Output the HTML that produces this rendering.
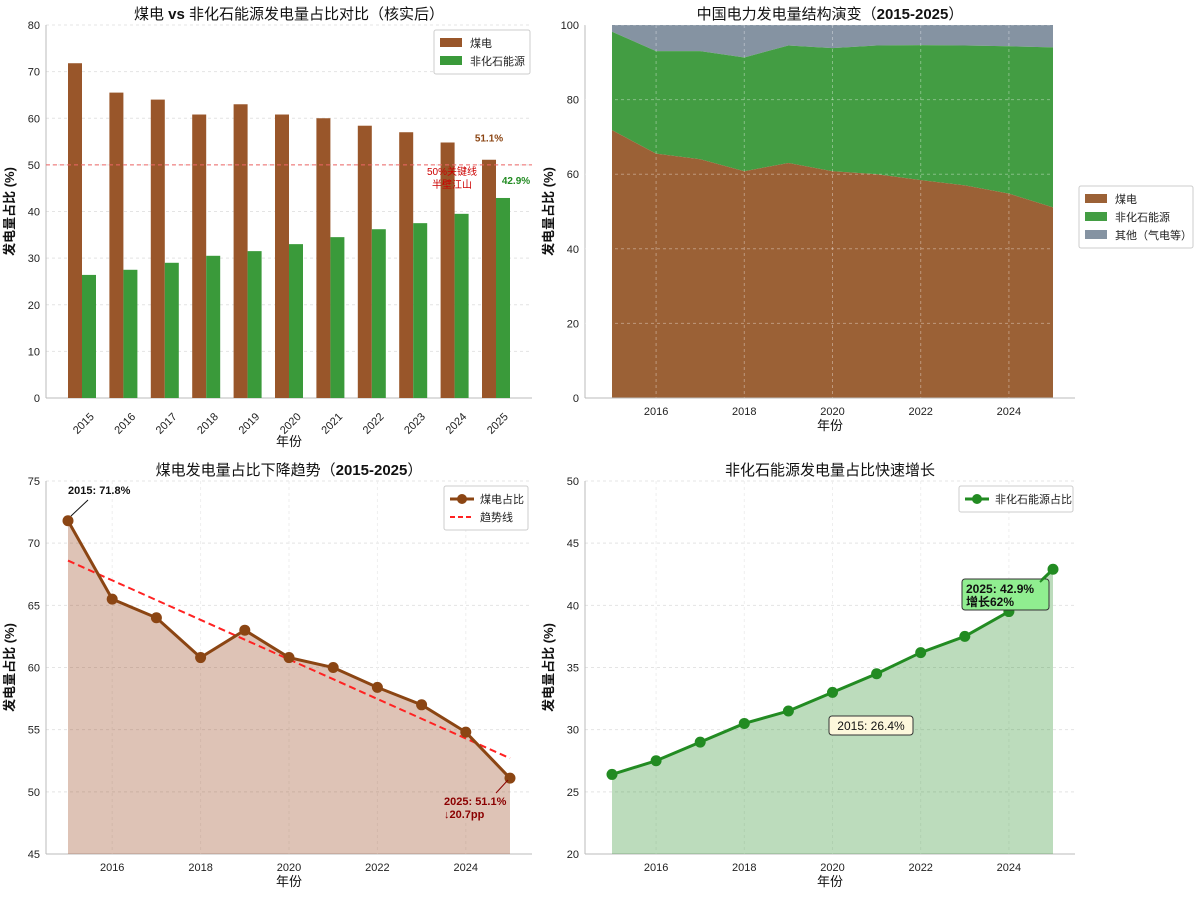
<!DOCTYPE html>
<html><head><meta charset="utf-8"><style>
body{margin:0;background:#fff;width:1200px;height:897px;overflow:hidden}
svg{font-family:"Liberation Sans","Noto Sans CJK SC",sans-serif}
</style></head><body>
<svg id="c" width="1200" height="897"></svg>
<script>
const years=[2015,2016,2017,2018,2019,2020,2021,2022,2023,2024,2025];
const coal=[71.8,65.5,64,60.8,63,60.8,60,58.4,57,54.8,51.1];
const nonFossil=[26.4,27.5,29,30.5,31.5,33,34.5,36.2,37.5,39.5,42.9];
const yTicks1=[0,10,20,30,40,50,60,70,80];
const yTicks2=[0,20,40,60,80,100];
const yTicks3=[45,50,55,60,65,70,75];
const yTicks4=[20,25,30,35,40,45,50];
const xTicks=[2016,2018,2020,2022,2024];
const trendStart=68.6, trendEnd=52.7;

const svg=document.getElementById('c');const NS='http://www.w3.org/2000/svg';
function el(t,a,txt,p){const e=document.createElementNS(NS,t);for(const k in a)e.setAttribute(k,a[k]);if(txt!=null)e.textContent=txt;(p||svg).appendChild(e);return e;}
function lin(d0,d1,r0,r1){return v=>r0+(v-d0)/(d1-d0)*(r1-r0);}
function frame(L,R,T,B,yt,ys,title,bold,xlabY){
  const g=el('g',{});
  
  
  yt.forEach(v=>{const y=ys(v);el('line',{x1:L,x2:R,y1:y,y2:y,stroke:'#e4e4e4','stroke-dasharray':'3,3'},null,g);
    const t=el('text',{x:L-6,y:y+4,'text-anchor':'end','font-size':11,fill:'#222'},v,g);
    });
  el('line',{x1:L,x2:L,y1:T,y2:B,stroke:'#bbb'},null,g);
  el('line',{x1:L,x2:R,y1:B,y2:B,stroke:'#bbb'},null,g);
  const tt=el('text',{x:(L+R)/2,y:T-6,'text-anchor':'middle','font-size':15,fill:'#111'},null,g);
  
  el('tspan',{},title[0],tt);el('tspan',{'font-weight':'bold'},bold,tt);el('tspan',{},title[1],tt);
  const yl=el('text',{transform:`translate(${L-32},${(T+B)/2}) rotate(-90)`,'text-anchor':'middle','font-size':13,'font-weight':'bold',fill:'#111'},'发电量占比 (%)',g);
  
  const xl=el('text',{x:(L+R)/2,y:xlabY,'text-anchor':'middle','font-size':13,fill:'#111'},'年份',g);
  
  return g;
}
function legend(x,y,items,w){const g=el('g',{});
  
  el('rect',{x,y,width:w,height:items.length*18+8,fill:'#fff',stroke:'#ccc',rx:2},null,g);
  items.forEach((it,i)=>{const yy=y+13+i*18;
    if(it.type==='rect')el('rect',{x:x+6,y:yy-5,width:22,height:9,fill:it.c},null,g);
    else{el('line',{x1:x+6,x2:x+30,y1:yy,y2:yy,stroke:it.c,'stroke-width':it.dash?2:3,'stroke-dasharray':it.dash?'5,3':''},null,g);
      if(!it.dash)el('circle',{cx:x+18,cy:yy,r:5,fill:it.c},null,g);}
    const t=el('text',{x:x+36,y:yy+4,'font-size':11,fill:'#222'},it.l,g);
    });}

// Panel 1
{const L=46,R=532,T=25,B=398;const ys=lin(0,80,B,T);
 frame(L,R,T,B,yTicks1,ys,['煤电 ',' 非化石能源发电量占比对比（核实后）'],'vs',446);
 const step=41.4,x0=82;
 years.forEach((yr,i)=>{const cx=x0+i*step;
  const b1=el('rect',{x:cx-14,y:ys(coal[i]),width:14,height:B-ys(coal[i]),fill:'#99562a'});
  
  const b2=el('rect',{x:cx,y:ys(nonFossil[i]),width:14,height:B-ys(nonFossil[i]),fill:'#3a9a3a'});
  
  const t=el('text',{transform:`translate(${cx+4},${B+28}) rotate(-45)`,'text-anchor':'middle','font-size':11,fill:'#222'},yr);
  });
 el('line',{x1:L,x2:R,y1:ys(50),y2:ys(50),stroke:'#e66','stroke-dasharray':'4,3','stroke-width':1});
 const lx=x0+10*step;
 el('text',{x:lx-7,y:ys(coal[10])-18,'text-anchor':'middle','font-size':10,'font-weight':'bold',fill:'#8b4513'},coal[10]+'%');
 el('text',{x:lx+20,y:ys(nonFossil[10])-14,'text-anchor':'middle','font-size':10,'font-weight':'bold',fill:'#228b22'},nonFossil[10]+'%');
 el('text',{x:452,y:175,'text-anchor':'middle','font-size':10,fill:'#c00'},'50%关键线');
 el('text',{x:452,y:188,'text-anchor':'middle','font-size':10,fill:'#c00'},'半壁江山');
 legend(434,30,[{type:'rect',c:'#99562a',l:'煤电'},{type:'rect',c:'#3a9a3a',l:'非化石能源'}],96);}

// Panel 2
{const L=585,R=1075,T=25,B=398;const ys=lin(0,100,B,T);const xs=lin(2015,2025,612,1053);
 frame(L,R,T,B,[],ys,['中国电力发电量结构演变（','）'],'2015-2025',430);
 const top=years.map((y,i)=>coal[i]+nonFossil[i]);
 const pts=(arr)=>years.map((y,i)=>xs(y)+','+ys(arr[i])).join(' ');
 const rev=(arr)=>years.slice().reverse().map((y,j)=>{const i=years.length-1-j;return xs(y)+','+ys(arr[i]);}).join(' ');
 const a3=el('polygon',{points:pts(years.map(()=>100))+' '+rev(top),fill:'#8593a2'});
 
 const a2=el('polygon',{points:pts(top)+' '+rev(coal),fill:'#439d43'});
 
 const a1=el('polygon',{points:pts(coal)+' '+rev(years.map(()=>0)),fill:'#9b6136'});
 
 yTicks2.forEach(v=>{const y=ys(v);el('line',{x1:L,x2:R,y1:y,y2:y,stroke:'rgba(255,255,255,0.35)','stroke-dasharray':'3,3'});
  const t=el('text',{x:L-6,y:y+4,'text-anchor':'end','font-size':11,fill:'#222'},v);
  });
 xTicks.forEach(v=>{el('line',{x1:xs(v),x2:xs(v),y1:T,y2:B,stroke:'rgba(255,255,255,0.35)','stroke-dasharray':'3,3'});
  const t=el('text',{x:xs(v),y:B+17,'text-anchor':'middle','font-size':11,fill:'#222'},v);
  });
 el('line',{x1:L,x2:R,y1:B,y2:B,stroke:'#bbb'});
 legend(1079,186,[{type:'rect',c:'#9b6136',l:'煤电'},{type:'rect',c:'#439d43',l:'非化石能源'},{type:'rect',c:'#8593a2',l:'其他（气电等）'}],114);}

// Panel 3
{const L=46,R=532,T=481,B=854;const ys=lin(45,75,B,T);const xs=lin(2015,2025,68,510);
 frame(L,R,T,B,yTicks3,ys,['煤电发电量占比下降趋势（','）'],'2015-2025',886);
 xTicks.forEach(v=>{el('line',{x1:xs(v),x2:xs(v),y1:T,y2:B,stroke:'#eee','stroke-dasharray':'3,3'});
  const t=el('text',{x:xs(v),y:B+17,'text-anchor':'middle','font-size':11,fill:'#222'},v);
  });
 const p=years.map((y,i)=>xs(y)+','+ys(coal[i])).join(' ');
 const a=el('polygon',{points:p+` ${xs(2025)},${B} ${xs(2015)},${B}`,fill:'rgba(160,82,45,0.35)'});
 
 const tl=el('line',{x1:xs(2015),y1:ys(trendStart),x2:xs(2025),y2:ys(trendEnd),stroke:'#f22','stroke-width':2,'stroke-dasharray':'7,4'});
 
 const ln=el('polyline',{points:p,fill:'none',stroke:'#8b4513','stroke-width':3});
 
 years.forEach((y,i)=>{const c=el('circle',{cx:xs(y),cy:ys(coal[i]),r:5.5,fill:'#8b4513'});
  });
 el('text',{x:68,y:494,'font-size':11,'font-weight':'bold',fill:'#111'},'2015: '+coal[0]+'%');
 el('line',{x1:88,y1:500,x2:71,y2:516,stroke:'#111'});
 el('text',{x:444,y:805,'font-size':11,'font-weight':'bold',fill:'#8b0000'},'2025: '+coal[10]+'%');
 el('text',{x:444,y:818,'font-size':11,'font-weight':'bold',fill:'#8b0000'},'↓'+(coal[0]-coal[10]).toFixed(1)+'pp');
 el('line',{x1:496,y1:793,x2:508,y2:780,stroke:'#8b0000'});
 legend(444,486,[{c:'#8b4513',l:'煤电占比'},{c:'#f22',dash:1,l:'趋势线'}],84);}

// Panel 4
{const L=585,R=1075,T=481,B=854;const ys=lin(20,50,B,T);const xs=lin(2015,2025,612,1053);
 frame(L,R,T,B,yTicks4,ys,['非化石能源发电量占比快速增长',''],'',886);
 xTicks.forEach(v=>{el('line',{x1:xs(v),x2:xs(v),y1:T,y2:B,stroke:'#eee','stroke-dasharray':'3,3'});
  const t=el('text',{x:xs(v),y:B+17,'text-anchor':'middle','font-size':11,fill:'#222'},v);
  });
 const p=years.map((y,i)=>xs(y)+','+ys(nonFossil[i])).join(' ');
 const a=el('polygon',{points:p+` ${xs(2025)},${B} ${xs(2015)},${B}`,fill:'rgba(34,139,34,0.3)'});
 
 const ln=el('polyline',{points:p,fill:'none',stroke:'#228b22','stroke-width':3});
 
 years.forEach((y,i)=>{const c=el('circle',{cx:xs(y),cy:ys(nonFossil[i]),r:5.5,fill:'#228b22'});
  });
 el('rect',{x:829,y:716,width:84,height:19,rx:3,fill:'#fdf8dc',stroke:'#333'});
 el('text',{x:871,y:730,'text-anchor':'middle','font-size':12,fill:'#111'},'2015: '+nonFossil[0]+'%');
 el('rect',{x:962,y:579,width:87,height:31,rx:3,fill:'#90ee90',stroke:'#333'});
 el('text',{x:966,y:593,'font-size':12,'font-weight':'bold',fill:'#111'},'2025: '+nonFossil[10]+'%');
 el('text',{x:966,y:606,'font-size':12,'font-weight':'bold',fill:'#111'},'增长'+Math.floor((nonFossil[10]/nonFossil[0]-1)*100)+'%');
 el('line',{x1:1040,y1:582,x2:1052,y2:571,stroke:'#228b22','stroke-width':2});
 legend(959,486,[{c:'#228b22',l:'非化石能源占比'}],114);}
</script>
</body></html>
